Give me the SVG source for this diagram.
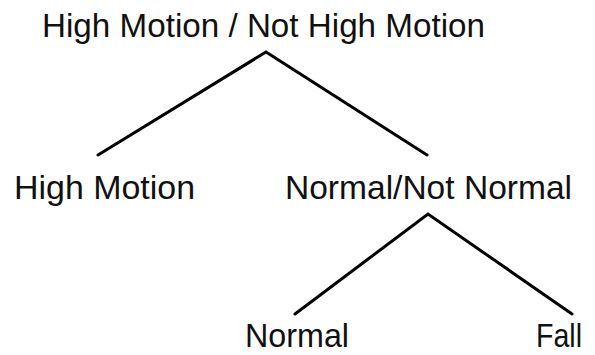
<svg xmlns="http://www.w3.org/2000/svg" width="595" height="355" viewBox="0 0 595 355">
<style>
text{font-family:"Liberation Sans",Arial,sans-serif;font-size:34px;fill:#111}
.c{stroke:#000;stroke-width:3;fill:none;stroke-linecap:round;stroke-linejoin:miter}
</style>
<rect width="595" height="355" fill="#fff"/>
<g id="connectors">
<polyline class="c" points="98,155 266,52 427,155"/>
<polyline class="c" points="295,314 428,214 572,314"/>
</g>
<g id="root"><text x="42" y="37" textLength="443" lengthAdjust="spacingAndGlyphs">High Motion / Not High Motion</text></g>
<g id="high-motion"><text x="14" y="199" textLength="181" lengthAdjust="spacingAndGlyphs">High Motion</text></g>
<g id="normal-not-normal"><text x="285" y="199" textLength="287" lengthAdjust="spacingAndGlyphs">Normal/Not Normal</text></g>
<g id="normal"><text x="245" y="347" textLength="104" lengthAdjust="spacingAndGlyphs">Normal</text></g>
<g id="fall"><text x="536" y="347" textLength="46" lengthAdjust="spacingAndGlyphs">Fall</text></g>
</svg>
